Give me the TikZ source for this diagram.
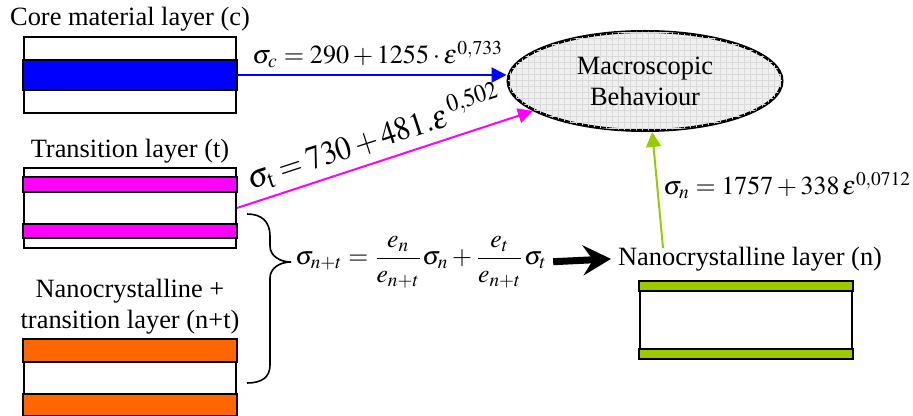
\documentclass[tikz,border=0pt]{standalone}
\usepackage{amsmath}
\usepackage{mathptmx}
\usepackage[no-math]{fontspec}
\setmainfont{Liberation Serif}
\usetikzlibrary{positioning,calc,arrows.meta,shapes.geometric,patterns}
\definecolor{corecol}{RGB}{0,0,255}
\definecolor{transcol}{RGB}{255,0,255}
\definecolor{mixcol}{RGB}{255,102,0}
\definecolor{nanocol}{RGB}{153,204,0}

\begin{document}
\begin{tikzpicture}[x=0.5pt,y=-0.5pt,
    layer/.style={draw,line width=1pt,minimum width=106pt,inner sep=0pt},
    band/.style={draw,line width=1pt},
    lbl/.style={font=\fontsize{13.2}{15.5}\selectfont,align=center},
    formula/.style={font=\fontsize{12}{15}\selectfont,inner sep=0pt},
    link/.style={line width=1pt,-{Triangle[length=7.5pt,width=7.5pt]}}]
  \useasboundingbox (0,0) rectangle (913,416);

  \node[layer,minimum height=38pt] (c) at (130,75) {};
  \node[layer,minimum height=40pt] (t) at (130,208) {};
  \node[layer,minimum height=37.5pt] (nt) at (130,377.5) {};
  \node[layer,minimum height=38pt] (n) at (746,320) {};

  \draw[band,fill=corecol] ($(c.west)+(0,-15)$) rectangle ($(c.east)+(0,15)$);
  \draw[band,fill=transcol] ($(t.north west)+(0,10)$) rectangle ($(t.north east)+(0,25)$);
  \draw[band,fill=transcol] ($(t.south west)+(0,-11)$) rectangle ($(t.south east)+(0,-25)$);
  \draw[band,fill=mixcol] (nt.north west) rectangle ($(nt.north east)+(0,23)$);
  \draw[band,fill=mixcol] (nt.south west) rectangle ($(nt.south east)+(0,-22)$);
  \draw[band,fill=nanocol] (n.north west) rectangle ($(n.north east)+(0,10)$);
  \draw[band,fill=nanocol] (n.south west) rectangle ($(n.south east)+(0,-10)$);

  \node[lbl,above=-1pt of c] (lc) {Core material layer (c)};
  \node[lbl,above=-1.5pt of t] (lt) {Transition layer (t)};
  \node[lbl,above=-1pt of nt] (lnt) {Nanocrystalline +\\transition layer (n+t)};
  \node[lbl,above=1.5pt of n,xshift=2pt] (ln) {Nanocrystalline layer (n)};

  \node[ellipse,draw,line width=1.5pt,fill=gray!12,
    postaction={pattern=grid,pattern color=gray!30},
    minimum width=137pt,minimum height=49.5pt,inner sep=0pt,lbl] (m) at (645,81)
    {Macroscopic\\Behaviour};

  \node[formula,anchor=base west,scale=1.09] (sc) at (252,64)
    {$\sigma_c = 290 + 1255\cdot\varepsilon^{0{,}733}$};
  \node[formula,anchor=base west,rotate=18,xscale=1.05,yscale=1.15,font=\fontsize{14.4}{17}\selectfont] (st) at (251,190)
    {$\sigma_{\mathrm{t}} = 730 + 481.\varepsilon^{\,0{,}502}$};
  \node[formula,anchor=base west,scale=1.08] (sn) at (663,195)
    {$\sigma_n = 1757 + 338\,\varepsilon^{0{,}0712}$};
  \node[formula,scale=1.07] (snt) at (421,262)
    {$\displaystyle \sigma_{n+t} = \frac{e_n}{e_{n+t}}\sigma_n + \frac{e_t}{e_{n+t}}\sigma_t$};

  \coordinate (g) at (663,248);
  \draw[link,corecol] (c.east) -- (c.east -| m.west);
  \draw[link,transcol] (t.east) -- (m.195);
  \draw[link,nanocol] (g) -- (m.-82);
  \draw[line width=3.5pt,-{Stealth[length=14pt,width=15pt,inset=5pt]},shorten <=3pt] (snt.east) -- (ln.west);

  \draw[line width=0.8pt] (247,214) .. controls (262,214) and (270,222) .. (270,236)
    -- (270,246) .. controls (270,256) and (280,262) .. (291,262)
    .. controls (280,262) and (270,268) .. (270,278)
    -- (270,365) .. controls (270,377) and (262,383) .. (247,383);
\end{tikzpicture}
\end{document}
